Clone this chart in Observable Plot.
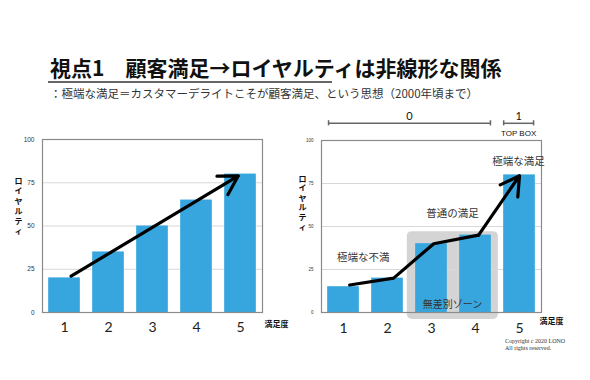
<!DOCTYPE html>
<html><head><meta charset="utf-8">
<script src="https://cdn.jsdelivr.net/npm/d3@7"></script>
<script src="https://cdn.jsdelivr.net/npm/@observablehq/plot@0.6"></script>
<style>
body{margin:0;width:590px;height:380px;background:#fff;position:relative;overflow:hidden;font-family:"Noto Sans CJK JP",sans-serif;}
#title{position:absolute;left:50px;top:57px;font-size:21px;line-height:21px;font-weight:700;color:#111;white-space:nowrap;}
#uline{position:absolute;left:48px;top:81px;width:284px;height:1.6px;background:#666;}
#sub{position:absolute;left:50px;top:87px;font-size:11.5px;line-height:12px;color:#333;white-space:nowrap;}
#left{position:absolute;left:0;top:110px;}
#right{position:absolute;left:295px;top:100px;}
#copy{position:absolute;left:505px;top:338px;font-family:"Liberation Serif",serif;font-size:6px;line-height:7px;color:#333;}
</style></head><body>
<div id="title"></div><div id="uline"></div><div id="sub"></div>
<div id="left"></div><div id="right"></div>
<div id="copy">Copyright c 2020 LONO<br>All rights reserved.</div>
<script>
const titleText = "視点1　顧客満足→ロイヤルティは非線形な関係";
const subtitleText = "：極端な満足＝カスタマーデライトこそが顧客満足、という思想（2000年頃まで）";
const categories = [1, 2, 3, 4, 5];
const yTicks = [0, 25, 50, 75, 100];
const leftValues = [20, 35, 50, 65, 80];
const rightValues = [15, 20, 40, 45, 80];
const leftArrow = [{x1: 1.15, y1: 21, x2: 4.95, y2: 79}];
const rightLineX = [1.14, 2.14, 3.05, 4.07];
const rightLineY = [16, 20, 40, 45];
const rightArrow = [{x1: 4.07, y1: 45, x2: 5.0, y2: 79.5}];
const yLabel = "ロイヤルティ";
const xLabel = "満足度";
const zone = [{x1: 2.45, x2: 4.52, y1: -4, y2: 47, label: "無差別ゾーン", lx: 3.48, ly: 4.6}];
const notes = [
  {x: 1.45, y: 32, text: "極端な不満"},
  {x: 3.48, y: 57.5, text: "普通の満足"},
  {x: 4.98, y: 88, text: "極端な満足"}
];
const brackets = [
  {x1: 0.66, x2: 4.34, y: 110, label: "0", sub: ""},
  {x1: 4.64, x2: 5.32, y: 110, label: "1", sub: "TOP BOX"}
];

document.getElementById("title").textContent = titleText;
document.getElementById("sub").textContent = subtitleText;

const blue = "#38a6de";
const half = 0.36;
const bars = (vals) => categories.map((c, i) => ({c, v: vals[i]}));

function baseMarks(vals, o) {
  return [
    Plot.ruleY([25, 50, 75], {stroke: "#d8d8d8", strokeWidth: 1}),
    Plot.rectY(bars(vals), {x1: d => d.c - half, x2: d => d.c + half, y1: 0, y2: "v", fill: blue}),
    Plot.frame({stroke: "#8a8a8a", strokeWidth: 1.2}),
    Plot.axisY(yTicks, {tickSize: 0, tickPadding: 8, fontSize: o.tickFont, fill: "#333", fontFamily: "Liberation Sans"}),
    Plot.axisX(categories, {tickSize: 0, tickPadding: o.xPad, fontSize: 14, fill: "#222", fontFamily: "Lato, 'Open Sans', sans-serif", tickFormat: d => String(d)}),
    Plot.text([xLabel], {x: 5.5, y: 0, dx: o.xlDx, dy: o.xlDy, text: d => d, fontSize: 8, fontWeight: "bold", fill: "#111", fontFamily: "Noto Sans CJK JP"}),
    Plot.text([yLabel], {frameAnchor: "left", textAnchor: "middle", dx: o.ylDx, dy: o.ylDy, text: d => d.split("").join("\n"), fontSize: 8, fontWeight: "bold", lineHeight: o.lh, fill: "#111", fontFamily: "Noto Sans CJK JP"})
  ];
}

const left = Plot.plot({
  width: 295, height: 230,
  marginLeft: 42, marginRight: 33, marginTop: 29, marginBottom: 28,
  x: {type: "linear", domain: [0.5, 5.5], axis: null},
  y: {domain: [0, 100], axis: null},
  style: {background: "transparent", overflow: "visible"},
  marks: [
    ...baseMarks(leftValues, {tickFont: 6.5, xPad: 10, xlDx: 14, xlDy: 12, ylDx: -24, ylDy: -20, lh: 1.25}),
    Plot.arrow(leftArrow, {x1: "x1", y1: "y1", x2: "x2", y2: "y2", stroke: "#000", strokeWidth: 3.2, headLength: 10})
  ]
});
document.getElementById("left").appendChild(left);

const right = Plot.plot({
  width: 295, height: 250,
  marginLeft: 26, marginRight: 49, marginTop: 40, marginBottom: 38,
  x: {type: "linear", domain: [0.5, 5.5], axis: null},
  y: {domain: [0, 100], axis: null},
  style: {background: "transparent", overflow: "visible"},
  marks: [
    Plot.rect(zone, {x1: "x1", x2: "x2", y1: "y1", y2: "y2", fill: "#d4d4d4", rx: 5}),
    ...baseMarks(rightValues, {tickFont: 4.5, xPad: 11, xlDx: 10, xlDy: 9, ylDx: -19, ylDy: -24, lh: 1.2}),
    Plot.text(zone, {x: "lx", y: "ly", text: "label", fontSize: 10, fill: "#333", fontFamily: "Noto Sans CJK JP"}),
    Plot.text(notes, {x: "x", y: "y", text: "text", fontSize: 10.5, fill: "#333", fontFamily: "Noto Sans CJK JP"}),
    Plot.line(rightLineX.map((x, i) => ({x, y: rightLineY[i]})), {x: "x", y: "y", stroke: "#000", strokeWidth: 3.2, strokeLinejoin: "miter"}),
    Plot.arrow(rightArrow, {x1: "x1", y1: "y1", x2: "x2", y2: "y2", stroke: "#000", strokeWidth: 3.2, headLength: 10}),
    Plot.ruleY(brackets, {x1: "x1", x2: "x2", y: "y", stroke: "#666", strokeWidth: 1.5}),
    Plot.ruleX(brackets, {x: "x1", stroke: "#666", strokeWidth: 1.5, y1: d => d.y - 1.5, y2: d => d.y + 1.5}),
    Plot.ruleX(brackets, {x: "x2", stroke: "#666", strokeWidth: 1.5, y1: d => d.y - 1.5, y2: d => d.y + 1.5}),
    Plot.text(brackets, {x: d => (d.x1 + d.x2) / 2, y: "y", dy: -7, text: "label", fontSize: 11, fill: "#111", fontFamily: "Lato, sans-serif"}),
    Plot.text(brackets, {x: d => (d.x1 + d.x2) / 2, y: "y", dy: 10, text: "sub", fontSize: 8, fill: "#111", fontFamily: "Liberation Sans"})
  ]
});
document.getElementById("right").appendChild(right);
</script>
</body></html>
